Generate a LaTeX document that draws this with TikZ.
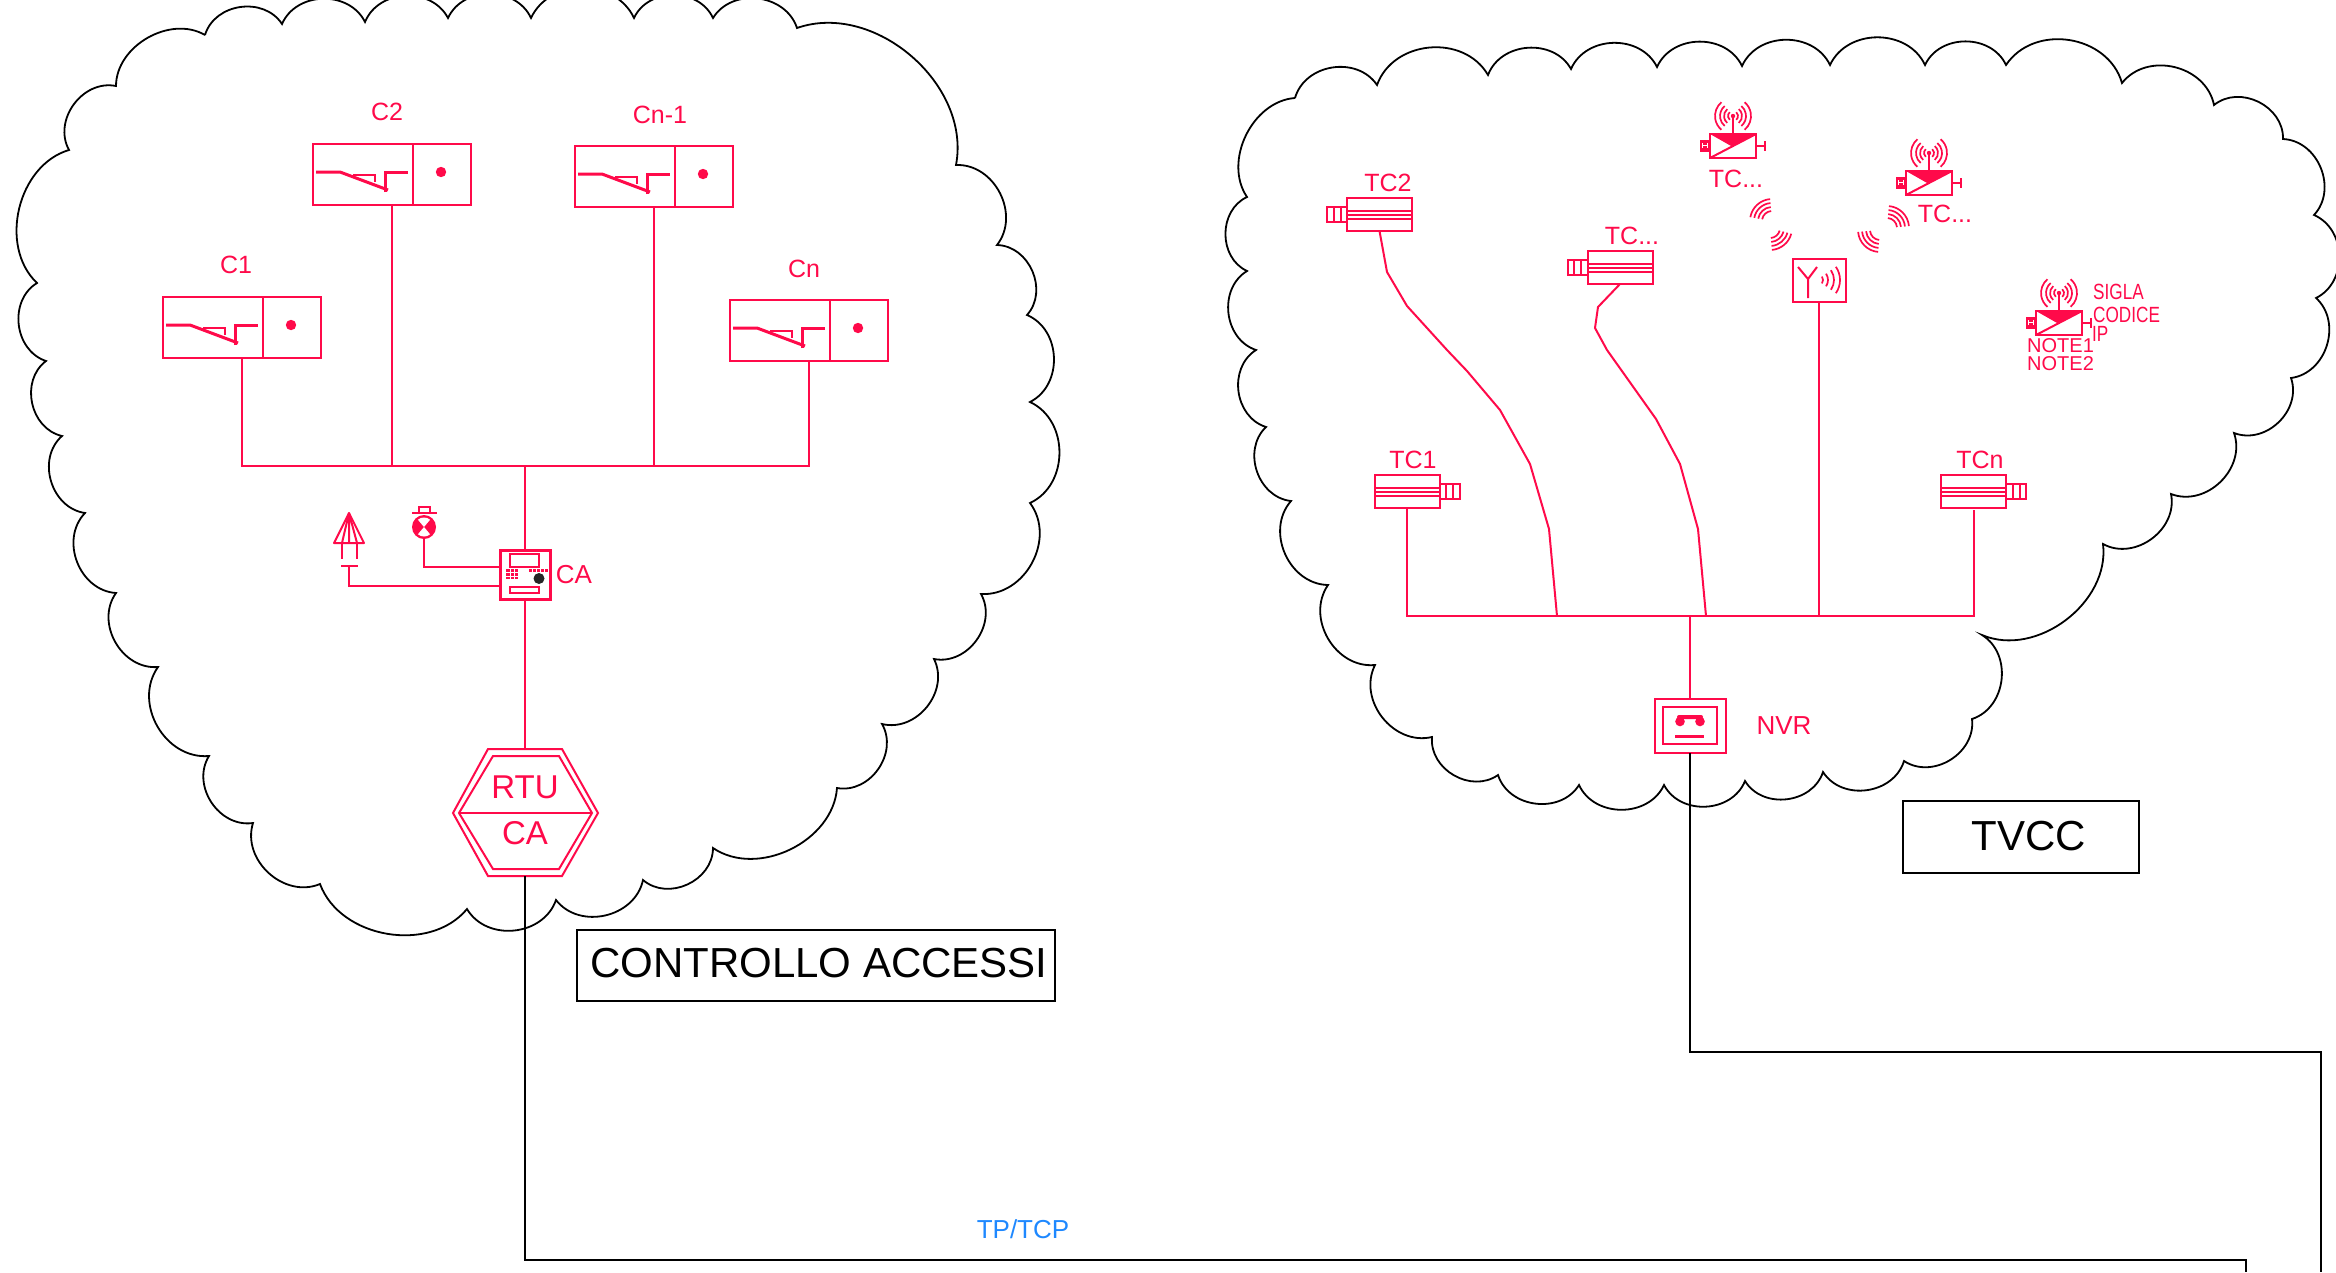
\documentclass[tikz,border=0pt]{standalone}
\usepackage{fontspec}
\setmainfont{Liberation Sans}
\newfontfamily\strettafont[FakeStretch=0.78]{Liberation Sans}
\usepackage{xcolor}
\usepackage{tikz}
\usetikzlibrary{calc}
\definecolor{rosso}{HTML}{FF0A4A}
\definecolor{azzurro}{HTML}{1E88FF}
\newcommand{\varco}[3]{%
  \node[varcobox, anchor=north west] (#1) at (#2,#3) {};
  \begin{scope}[shift={(#2,#3)}]
    \draw[filo] (100,0) -- (100,61);
    \draw[filo] (40,31) -- (62,31) -- (62,38);
    \draw[filo, line width=3pt] (3,28) -- (27,28) -- (75,46);
    \draw[filo, line width=3pt] (72,48) -- (72,28) -- (95,28);
    \fill[rosso] (128,28) circle (5.2pt);
  \end{scope}
}
\newcommand{\telecamera}[4]{%
  \node[cambox] (#1) at (#2,#3) {};
  \begin{scope}[shift={(#2,#3)}, xscale=#4]
    \draw[filo] (32.5,-7.5) rectangle (52.5,7.5);
    \draw[filo] (39,-7.5) -- (39,7.5) (46,-7.5) -- (46,7.5);
    \draw[filo] (-32.5,-3.5) -- (32.5,-3.5) (-32.5,0) -- (32.5,0) (-32.5,4) -- (32.5,4);
  \end{scope}
}
\newcommand{\telewifi}[3]{%
  \node[wifibox, anchor=north west] (#1) at (#2,#3) {};
  \begin{scope}[shift={(#2,#3)}]
    \fill[rosso] (0,0) -- (46,0) -- (22,12.5) -- cycle;
    \draw[filo] (0,24) -- (46,0);
    \fill[rosso] (-10,5.5) rectangle (0,18);
    \draw[white, line width=0.6pt] (-7.5,9) -- (-7.5,14) (-2.5,9) -- (-2.5,14) (-7.5,11.5) -- (-2.5,11.5);
    \draw[filo] (46,12) -- (55,12);
    \draw[filo, line width=2.5pt] (55,7) -- (55,17);
    \draw[filo] (23,0) -- (23,-18);
    \fill[rosso] (23,-18) circle (2.2pt);
    \onde{23}{-18}{130}{230}{5,9,13,18}
    \onde{23}{-18}{-50}{50}{5,9,13,18}
  \end{scope}
}
\newcommand{\onde}[5]{%
  \foreach \r in {#5}{\draw[filo, line width=1.7pt] (#1,#2) ++(#3:\r pt) arc[start angle=#3, end angle=#4, radius=\r pt];}
}
\begin{document}
\begin{tikzpicture}[x=1pt, y=-1pt,
  filo/.style={rosso, line width=2pt},
  nero/.style={black, line width=2pt},
  nuvola/.style={black, line width=1.8pt},
  bump/.style={bend left=65, looseness=1.1},
  bumpb/.style={bend left=60},
  varcobox/.style={rectangle, draw=rosso, line width=2pt, minimum width=158pt, minimum height=61pt, inner sep=0pt, outer sep=0pt},
  cambox/.style={rectangle, draw=rosso, line width=2pt, minimum width=65pt, minimum height=33pt, inner sep=0pt, outer sep=0pt},
  wifibox/.style={rectangle, draw=rosso, line width=2pt, minimum width=46pt, minimum height=24pt, inner sep=0pt, outer sep=0pt},
  lbl/.style={text=rosso, inner sep=0pt, font=\fontsize{25pt}{27pt}\selectfont},
  stretta/.style={text=rosso, inner sep=0pt, anchor=west, font=\strettafont\fontsize{22pt}{24pt}\selectfont},
  nota/.style={text=rosso, inner sep=0pt, anchor=west, font=\fontsize{20pt}{22pt}\selectfont},
  titolo/.style={rectangle, draw=black, line width=2pt, inner sep=0pt, outer sep=0pt},
  titolotxt/.style={inner sep=0pt, font=\fontsize{42pt}{44pt}\selectfont}
]
\path[use as bounding box, clip] (0,0) rectangle (2336,1272);

% ===== Clouds =====
\draw[nuvola] (205,35) to[bump] (282,24) to[bump] (365,22) to[bump] (448,18) to[bump] (531,18)
  to[bump] (634,18) to[bump] (713,18) to[bump] (797,28) to[bumpb] (956,165) to[bump] (997,245)
  to[bump] (1027,315) to[bump] (1030,402) to[bump] (1030,503) to[bump] (981,594) to[bump] (934,659)
  to[bump] (882,724) to[bump] (837,788) to[bumpb] (713,848) to[bump] (643,880) to[bump] (556,900)
  to[bump] (467,909) to[bumpb] (320,884) to[bump] (253,823) to[bump] (209,756) to[bump] (158,667)
  to[bump] (116,593) to[bump] (85,513) to[bump] (62,436) to[bump] (46,361) to[bump] (37,283)
  to[bumpb] (69,150) to[bump] (116,86) to[bumpb] (205,35);
\draw[nuvola] (1295,98) to[bump] (1377,85) to[bump] (1488,75) to[bump] (1571,69) to[bump] (1657,67)
  to[bump] (1742,66) to[bump] (1830,65) to[bump] (1925,65) to[bump] (2006,65) to[bump] (2122,83)
  to[bump] (2214,105) to[bump] (2283,139) to[bump] (2314,215) to[bump] (2316,298) to[bump] (2291,378)
  to[bump] (2234,433) to[bump] (2171,494) to[bump] (2103,544) to[bumpb] (1982,635) to[bump] (1972,719)
  to[bump] (1904,761) to[bump] (1823,772) to[bump] (1745,781) to[bump] (1664,785) to[bump] (1579,785)
  to[bump] (1498,775) to[bump] (1432,737) to[bump] (1375,665) to[bump] (1328,585) to[bump] (1291,501)
  to[bump] (1266,427) to[bump] (1256,350) to[bump] (1247,271) to[bump] (1247,197) to[bumpb] (1295,98);

% ===== Controllo accessi =====
\varco{c1}{163}{297}
\varco{c2}{313}{144}
\varco{cn1}{575}{146}
\varco{cn}{730}{300}
\node[lbl] (lc1) at (236,265) {C1};
\node[lbl] (lc2) at (387,112) {C2};
\node[lbl] (lcn1) at (660,115) {Cn-1};
\node[lbl] (lcn) at (804,269) {Cn};

\node[rectangle, draw=rosso, line width=3pt, minimum width=50pt, minimum height=49pt, inner sep=0pt, outer sep=0pt] (pannello) at (525,575) {};
\draw[filo] (510,554) rectangle (539,567);
\draw[filo] (510,587) rectangle (539,593);
\fill[rosso] (506,569) rectangle (518,579);
\draw[white, line width=0.5pt] (510,569) -- (510,579) (514,569) -- (514,579) (506,572.5) -- (518,572.5) (506,576) -- (518,576);
\draw[rosso, line width=2.8pt, dash pattern=on 3pt off 1pt] (529,570.5) -- (548,570.5);
\fill[black!85] (539,578.5) circle (5.5pt);
\node[lbl, font=\fontsize{26pt}{28pt}\selectfont] (lca) at (574,575) {CA};

% lamp and horn
\node[circle, fill=rosso, minimum size=24pt, inner sep=0pt, outer sep=0pt] (lampada) at (424,527) {};
\fill[white] (424,527) -- ++(50:9.5pt) arc[start angle=50, end angle=130, radius=9.5pt] -- cycle;
\fill[white] (424,527) -- ++(-50:9.5pt) arc[start angle=-50, end angle=-130, radius=9.5pt] -- cycle;
\draw[filo] (412,513) -- (437,513) (419,513) -- (419,507) -- (430,507) -- (430,513);
\draw[filo, line join=round] (349,513) -- (334,543) -- (364,543) -- cycle;
\draw[filo] (349,513) -- (342,543) (349,513) -- (349,543) (349,513) -- (357,543);
\draw[filo] (342,543) -- (342,559) (357,543) -- (357,559);
\draw[filo] (341,566) -- (358,566);
\coordinate (tromba) at (349,566);

\node[minimum width=145pt, minimum height=127pt, inner sep=0pt, outer sep=0pt] (rtuca) at (525,812.5) {};
\draw[filo] (488,749) -- (562,749) -- (598,813) -- (562,876) -- (488,876) -- (453,813) -- cycle;
\draw[filo] (493,756) -- (559,756) -- (592,813) -- (559,869) -- (493,869) -- (459,813) -- cycle;
\draw[filo] (459,813) -- (592,813);
\node[lbl, font=\fontsize{33pt}{35pt}\selectfont] (lrtu) at (525,787) {RTU};
\node[lbl, font=\fontsize{33pt}{35pt}\selectfont] (lrtuca) at (525,833) {CA};

\coordinate (busa) at (525,466);
\draw[filo] (c1.south) |- (busa) -| (cn.south);
\draw[filo] (c2.south) -- (c2.south |- busa);
\draw[filo] (cn1.south) -- (cn1.south |- busa);
\draw[filo] (busa) -- (pannello.north);
\draw[filo] (pannello.south) -- (rtuca.north);
\draw[filo] (lampada.south) |- ([yshift=8pt]pannello.west);
\draw[filo] (tromba) |- ([yshift=-11pt]pannello.west);

\node[titolo, minimum width=478pt, minimum height=71pt] (ltca) at (815.5,965) {};
\node[titolotxt] (ltcatxt) at (819,963) {CONTROLLO ACCESSI};

% ===== TVCC =====
\telecamera{tc2}{1379.5}{214.5}{-1}
\telecamera{tcx}{1620}{267.5}{-1}
\telecamera{tc1}{1407}{491.5}{1}
\telecamera{tcn}{1973.5}{491.5}{1}
\node[lbl] (ltc2) at (1388,183) {TC2};
\node[lbl] (ltcx) at (1632,236) {TC...};
\node[lbl] (ltc1) at (1413,460) {TC1};
\node[lbl] (ltcn) at (1980,460) {TCn};

\telewifi{tw1}{1710}{134}
\telewifi{tw2}{1906}{171}
\telewifi{tw3}{2036}{311}
\node[lbl] (ltw1) at (1736,179) {TC...};
\node[lbl] (ltw2) at (1945,214) {TC...};
\node[stretta] (lsigla) at (2093,292) {SIGLA};
\node[stretta] (lcodice) at (2093,315) {CODICE};
\node[stretta] (lip) at (2092,334) {IP};
\node[nota] (lnote1) at (2027,346) {NOTE1};
\node[nota] (lnote2) at (2027,364) {NOTE2};

% wireless link
\onde{1772}{221}{95}{170}{10,14,18,22}
\onde{1770}{228}{-85}{-15}{10,14,18,22}
\onde{1880}{230}{185}{265}{10,14,18,22}
\onde{1887}{228}{5}{85}{10,14,18,22}

\node[rectangle, draw=rosso, line width=2pt, minimum width=53pt, minimum height=43pt, inner sep=0pt, outer sep=0pt] (antenna) at (1819,280.5) {};
\draw[filo] (1798,267) -- (1808,279) -- (1817,267) (1808,279) -- (1808,298);
\onde{1817}{280}{-35}{35}{6,11,17,23}

\node[rectangle, draw=rosso, line width=2pt, minimum width=71pt, minimum height=54pt, inner sep=0pt, outer sep=0pt] (nvr) at (1690,726) {};
\draw[filo] (1663,707) rectangle (1717,744);
\fill[rosso] (1680,721.5) circle (4.8pt) (1700,721.5) circle (4.8pt);
\fill[rosso, rounded corners=2pt] (1677,715) rectangle (1703,719);
\fill[rosso] (1675,734.5) rectangle (1704,737.5);
\node[lbl, font=\fontsize{26pt}{28pt}\selectfont] (lnvr) at (1784,726) {NVR};

\coordinate (busb) at (1690,616);
\draw[filo] (tc1.south) |- (busb) -| ([yshift=-2pt]tcn.south);
\draw[filo] (tc2.south) -- (1387,272) -- (1407,306) -- (1447,350) -- (1467,371) -- (1500,410) -- (1530,464) -- (1549,529) -- (1557,616);
\draw[filo] (tcx.south) -- (1598,307) -- (1595,328) -- (1607,350) -- (1656,419) -- (1680,464) -- (1698,529) -- (1706,616);
\draw[filo] (antenna.south) -- (antenna.south |- busb);
\draw[filo] (busb) -- (nvr.north);

\node[titolo, minimum width=236pt, minimum height=72pt] (ltv) at (2021,837) {};
\node[titolotxt] (ltvtxt) at (2028.5,836) {TVCC};

% ===== Dorsale =====
\coordinate (gomitoa) at (525,1260);
\coordinate (finea) at (2246,1272);
\coordinate (gomitob) at (1690,1052);
\coordinate (fineb) at (2321,1272);
\draw[nero] (rtuca.south) -- (gomitoa) -| (finea);
\draw[nero] (nvr.south) -- (gomitob) -| (fineb);
\node[inner sep=0pt, text=azzurro, font=\fontsize{26pt}{28pt}\selectfont] (ltcp) at (1023,1229) {TP/TCP};

\end{tikzpicture}
\end{document}
